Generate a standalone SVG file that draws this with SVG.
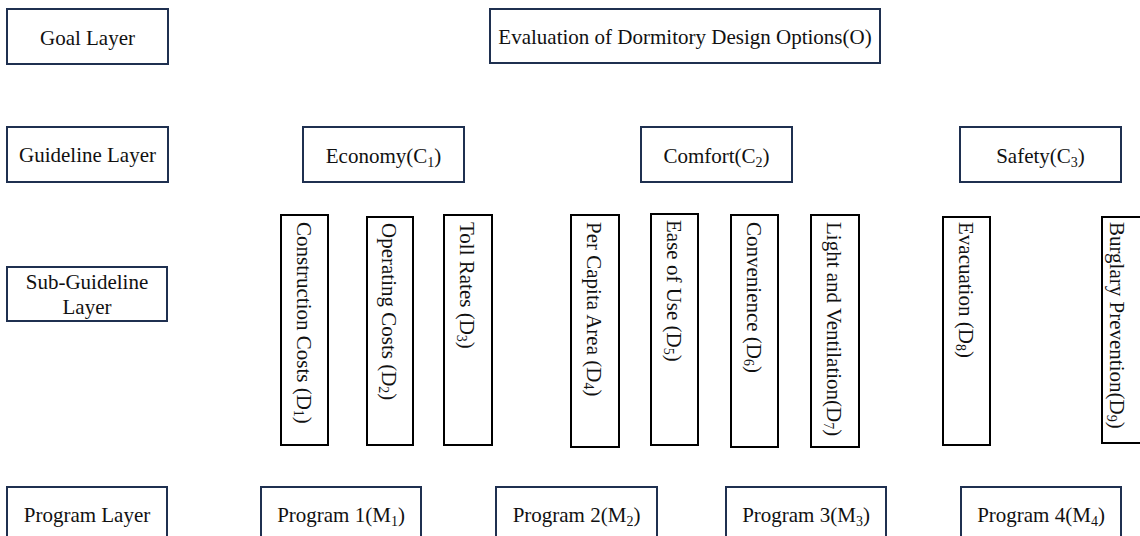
<svg xmlns="http://www.w3.org/2000/svg" width="1140" height="536" viewBox="0 0 1140 536">
<style>
text{font-family:"Liberation Serif","Times New Roman",serif;font-size:21px;fill:#111}
.c{text-anchor:middle}
.s{font-size:14px}
.lay{fill:#fff;stroke:#1f3050;stroke-width:2}
.sub{fill:#fff;stroke:#000;stroke-width:2}
</style>
<rect width="1140" height="536" fill="#fff"/>
<g id="connectors"></g>
<g id="goal-layer"><rect class="lay" x="7" y="9" width="161" height="55"/><text class="c" x="87.5" y="45">Goal Layer</text></g>
<g id="guideline-layer"><rect class="lay" x="7" y="127" width="161" height="55"/><text class="c" x="87.5" y="162">Guideline Layer</text></g>
<g id="subguideline-layer"><rect class="lay" x="7" y="267" width="160" height="54"/><text class="c" x="87" y="289">Sub-Guideline</text><text class="c" x="87" y="314">Layer</text></g>
<g id="program-layer"><rect class="lay" x="7" y="487" width="160" height="60"/><text class="c" x="87" y="522">Program Layer</text></g>
<g id="O"><rect class="lay" x="490" y="9" width="390" height="54"/><text class="c" x="685" y="44">Evaluation of Dormitory Design Options(O)</text></g>
<g id="C1"><rect class="lay" x="303" y="127" width="161" height="55"/><text class="c" x="383.5" y="163">Economy(C<tspan class="s" dy="4">1</tspan><tspan dy="-4">)</tspan></text></g>
<g id="C2"><rect class="lay" x="641" y="127" width="151" height="55"/><text class="c" x="716.5" y="163">Comfort(C<tspan class="s" dy="4">2</tspan><tspan dy="-4">)</tspan></text></g>
<g id="C3"><rect class="lay" x="960" y="127" width="161" height="55"/><text class="c" x="1040.5" y="163">Safety(C<tspan class="s" dy="4">3</tspan><tspan dy="-4">)</tspan></text></g>
<g id="D1"><rect class="sub" x="281" y="215" width="47" height="230"/><text transform="translate(296.5,222) rotate(90)">Construction Costs (D<tspan class="s" dy="3">1</tspan><tspan dy="-3">)</tspan></text></g>
<g id="D2"><rect class="sub" x="367" y="217" width="46" height="228"/><text transform="translate(382,223) rotate(90)">Operating Costs (D<tspan class="s" dy="3">2</tspan><tspan dy="-3">)</tspan></text></g>
<g id="D3"><rect class="sub" x="444" y="215" width="48" height="230"/><text transform="translate(460,222) rotate(90)">Toll Rates (D<tspan class="s" dy="3">3</tspan><tspan dy="-3">)</tspan></text></g>
<g id="D4"><rect class="sub" x="571" y="215" width="48" height="232"/><text transform="translate(587,222) rotate(90)">Per Capita Area (D<tspan class="s" dy="3">4</tspan><tspan dy="-3">)</tspan></text></g>
<g id="D5"><rect class="sub" x="651" y="214" width="47" height="231"/><text transform="translate(666.5,220) rotate(90)">Ease of Use (D<tspan class="s" dy="3">5</tspan><tspan dy="-3">)</tspan></text></g>
<g id="D6"><rect class="sub" x="731" y="215" width="47" height="232"/><text transform="translate(746.5,222) rotate(90)">Convenience (D<tspan class="s" dy="3">6</tspan><tspan dy="-3">)</tspan></text></g>
<g id="D7"><rect class="sub" x="811" y="215" width="48" height="232"/><text transform="translate(827,222) rotate(90)">Light and Ventilation(D<tspan class="s" dy="3">7</tspan><tspan dy="-3">)</tspan></text></g>
<g id="D8"><rect class="sub" x="943" y="217" width="47" height="228"/><text transform="translate(958.5,222) rotate(90)">Evacuation (D<tspan class="s" dy="3">8</tspan><tspan dy="-3">)</tspan></text></g>
<g id="D9"><rect class="sub" x="1102" y="217" width="47" height="226"/><text transform="translate(1110,222) rotate(90)">Burglary Prevention(D<tspan class="s" dy="3">9</tspan><tspan dy="-3">)</tspan></text></g>
<g id="M1"><rect class="lay" x="261" y="487" width="160" height="60"/><text class="c" x="341" y="522">Program 1(M<tspan class="s" dy="4">1</tspan><tspan dy="-4">)</tspan></text></g>
<g id="M2"><rect class="lay" x="496" y="487" width="161" height="60"/><text class="c" x="576.5" y="522">Program 2(M<tspan class="s" dy="4">2</tspan><tspan dy="-4">)</tspan></text></g>
<g id="M3"><rect class="lay" x="726" y="487" width="160" height="60"/><text class="c" x="806" y="522">Program 3(M<tspan class="s" dy="4">3</tspan><tspan dy="-4">)</tspan></text></g>
<g id="M4"><rect class="lay" x="961" y="487" width="160" height="60"/><text class="c" x="1041" y="522">Program 4(M<tspan class="s" dy="4">4</tspan><tspan dy="-4">)</tspan></text></g>
</svg>
